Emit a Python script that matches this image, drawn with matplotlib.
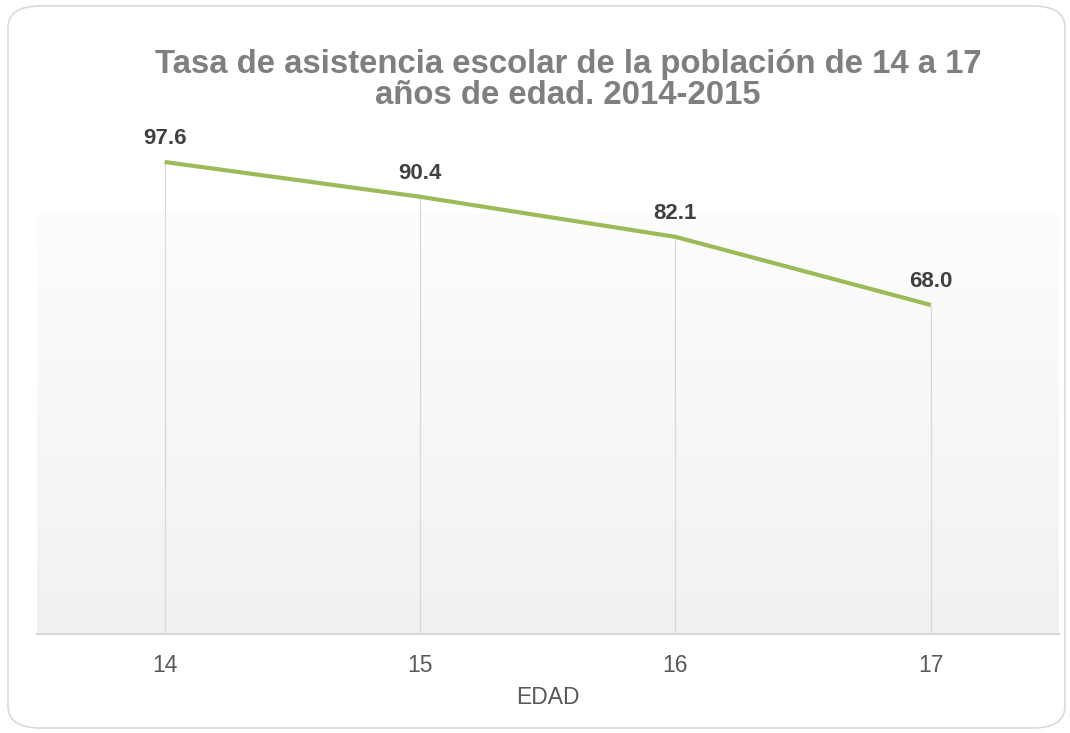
import numpy as np
import matplotlib.pyplot as plt
from matplotlib.patches import FancyBboxPatch
from matplotlib.colors import LinearSegmentedColormap

plt.rcParams['font.family'] = ['Liberation Sans', 'DejaVu Sans']

edades = ['14', '15', '16', '17']
tasa = [97.6, 90.4, 82.1, 68.0]

W, H = 1070, 733
fig = plt.figure(figsize=(W/100, H/100), dpi=100)

# marco redondeado exterior
marco = FancyBboxPatch((8/W, 5/H), 1057/W, 722/H,
                       boxstyle='round,pad=0,rounding_size=0.03',
                       transform=fig.transFigure, fc='white', ec='#d9d9d9', lw=1.2,
                       zorder=-5)
fig.patches.append(marco)

# fondo degradado del area de trazado
left, right = 37/W, 1058.5/W
bottom = (H - 633.5)/H
axbg = fig.add_axes([left, bottom, right - left, (633.5 - 213)/H])
grad = np.linspace(0, 1, 256).reshape(-1, 1)
cm = LinearSegmentedColormap.from_list('g', ['#fdfdfd', '#f1f1f1'])
axbg.imshow(grad, aspect='auto', cmap=cm, extent=[0, 1, 0, 1], origin='upper')
axbg.axis('off')

ax = fig.add_axes([left, bottom, right - left, (633.5 - 140)/H])
ax.patch.set_alpha(0)
x = np.arange(len(edades))
ax.vlines(x, 0, tasa, color='#d9d9d9', lw=0.9, zorder=1)
ax.plot(x, tasa, color='#9bbb59', lw=3, solid_capstyle='butt', zorder=3)
for xi, v in zip(x, tasa):
    ax.annotate(f'{v:.1f}', (xi, v), xytext=(0, 9.5), textcoords='offset points',
                ha='center', va='bottom', fontsize=16, fontweight='bold', color='#404040')

ax.set_xlim(-0.5, len(edades) - 0.5)
ax.set_ylim(0, 102.15)
ax.set_xticks(x)
ax.set_xticklabels(edades, fontsize=16.5, color='#595959')
ax.tick_params(axis='x', length=0, pad=15)
ax.set_yticks([])
for s in ['top', 'left', 'right']:
    ax.spines[s].set_visible(False)
ax.spines['bottom'].set_color('#d9d9d9')
ax.spines['bottom'].set_linewidth(1.6)
ax.set_xlabel('EDAD', fontsize=16.5, color='#595959', labelpad=6)

fig.text(568/W, 1 - 80/H,
         'Tasa de asistencia escolar de la población de 14 a 17\naños de edad. 2014-2015',
         ha='center', va='center', fontsize=23.7, fontweight='bold', color='#7f7f7f',
         linespacing=1.0)

fig.savefig('out.png', dpi=100)
